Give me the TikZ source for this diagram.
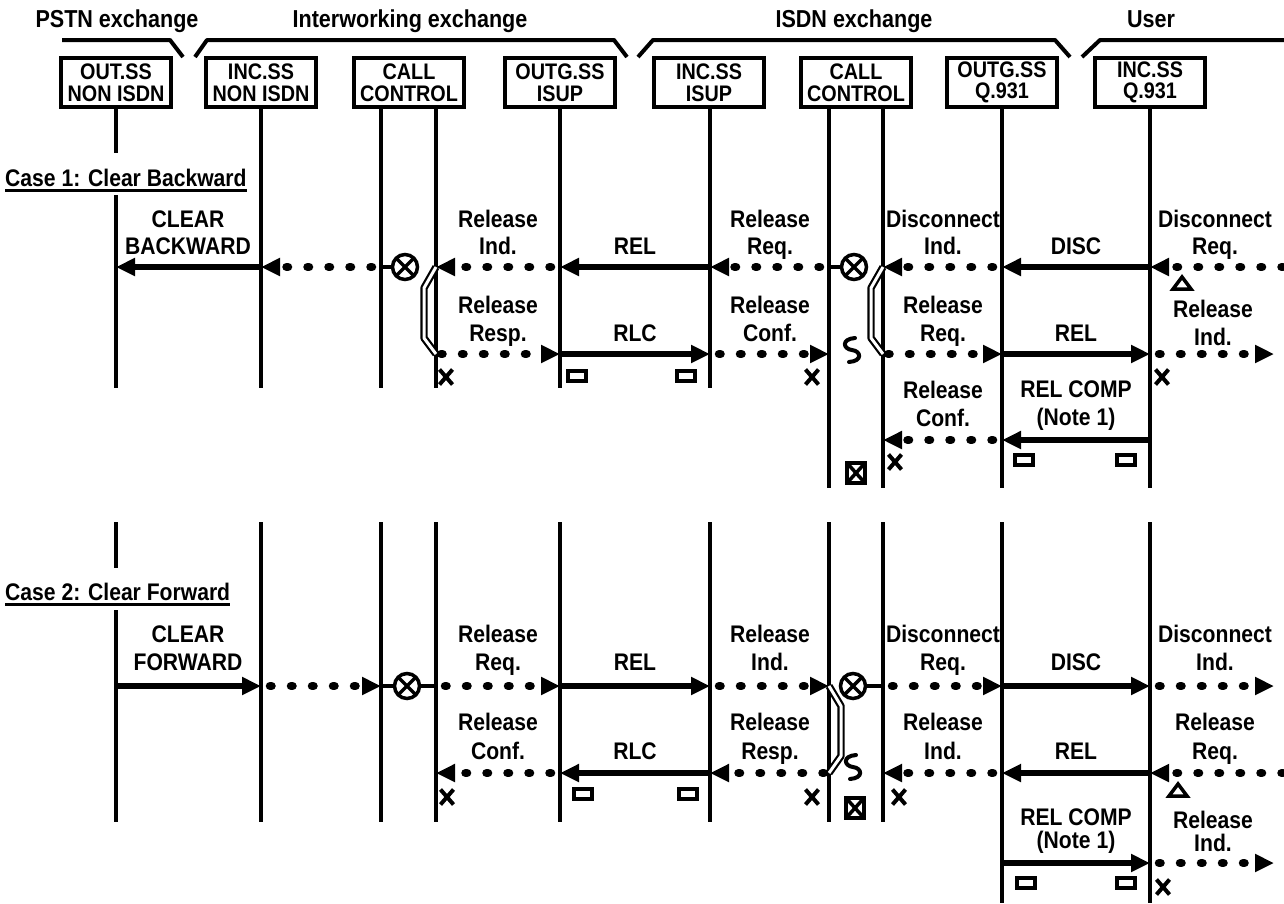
\documentclass[tikz,border=0pt]{standalone}
\usepackage{fontspec}
\setmainfont{Liberation Sans}[FakeStretch=0.88]
\usetikzlibrary{arrows.meta}
\begin{document}
\begin{tikzpicture}[x=1pt,y=-1pt,
  every node/.style={font=\bfseries\fontsize{24}{26}\selectfont, inner sep=0pt},
  ent/.style={draw, line width=4pt, minimum width=110pt, minimum height=49pt, align=center, font=\bfseries\fontsize{22.5}{21.5}\selectfont},
  hdr/.style={font=\bfseries\fontsize{24.5}{26}\selectfont, anchor=base},
  casel/.style={font=\bfseries\fontsize{24}{26}\selectfont, anchor=base west},
  lbl/.style={anchor=base},
  life/.style={line width=4pt},
  brace/.style={line width=4pt, line join=round},
  msg/.style={line width=5.5pt, -{Triangle[length=19pt,width=17pt]}},
  dmsg/.style={line width=8.5pt, line cap=round, dash pattern=on 1.5pt off 19.5pt, -{Triangle[length=19pt,width=17pt]}},
  link/.style={line width=3.5pt},
  brk/.style={line width=2.2pt, double=white, double distance=3pt, line join=round},
  ox/.style={circle, draw, line width=3.5pt, minimum size=25pt, inner sep=0pt,
    path picture={\draw[line width=3.5pt] (path picture bounding box.north west) -- (path picture bounding box.south east) (path picture bounding box.south west) -- (path picture bounding box.north east);}},
  xm/.pic={\draw[line width=4pt] (-6.5,-7.5) -- (6.5,7.5) (-6.5,7.5) -- (6.5,-7.5);},
  rm/.pic={\draw[line width=4pt] (-9,-5) rectangle (9,5);},
  bxm/.pic={\draw[line width=4pt] (-9,-10) rectangle (9,10); \draw[line width=3.5pt] (-9,-10) -- (9,10) (-9,10) -- (9,-10);},
  trim/.pic={\draw[line width=3.5pt, line join=miter] (-9,6) -- (0,-6) -- (9,6) -- cycle;},
  tlm/.pic={\draw[line width=4pt, line cap=round] (3,-12) .. controls (-11,-11) and (-9,-1) .. (0,0) .. controls (9,1) and (11,11) .. (-3,12);}
]
\useasboundingbox (0,0) rectangle (1284,903);

% lifeline x positions
\coordinate (L1) at (116,0);
\coordinate (L2) at (261,0);
\coordinate (L3) at (381,0);
\coordinate (L4) at (436,0);
\coordinate (L5) at (560,0);
\coordinate (L6) at (710,0);
\coordinate (L7) at (829,0);
\coordinate (L8) at (883,0);
\coordinate (L9) at (1002,0);
\coordinate (L10) at (1150,0);
% row y positions
\coordinate (A1) at (0,267);
\coordinate (A2) at (0,354);
\coordinate (A3) at (0,440);
\coordinate (B1) at (0,686);
\coordinate (B2) at (0,773);
\coordinate (B3) at (0,863);
\coordinate (E1) at (0,388);
\coordinate (E1b) at (0,488);
\coordinate (S2) at (0,522);
\coordinate (E2) at (0,822);
\coordinate (E2b) at (0,903);

% headers
\node[hdr] (h1) at (117,27) {PSTN exchange};
\node[hdr] (h2) at (410,27) {Interworking exchange};
\node[hdr] (h3) at (854,27) {ISDN exchange};
\node[hdr] (h4) at (1151,27) {User};
\draw[brace] (62,40) -- (170,40) -- (183,57);
\draw[brace] (195,57) -- (207,40) -- (614,40) -- (627,57);
\draw[brace] (638,57) -- (653,40) -- (1055,40) -- (1070,57);
\draw[brace] (1082,57) -- (1100,40) -- (1284,40);

% entity boxes
\node[ent] (b1) at (116,82.5) {OUT.SS\\NON ISDN};
\node[ent] (b2) at (261,82.5) {INC.SS\\NON ISDN};
\node[ent] (b3) at (409,82.5) {CALL\\CONTROL};
\node[ent] (b4) at (560,82.5) {OUTG.SS\\ISUP};
\node[ent] (b5) at (709,82.5) {INC.SS\\ISUP};
\node[ent] (b6) at (856,82.5) {CALL\\CONTROL};
\node[ent] (b7) at (1002,82.5) {OUTG.SS\\Q.931};
\node[ent] (b8) at (1150,82.5) {INC.SS\\Q.931};

% case 1 lifelines
\draw[life] (L1|-b1.south) -- (L1|-0,153);
\draw[life] (L1|-0,195) -- (L1|-E1);
\draw[life] (L2|-b2.south) -- (L2|-E1);
\draw[life] (L3|-b3.south) -- (L3|-E1);
\draw[life] (L4|-b3.south) -- (L4|-E1);
\draw[life] (L5|-b4.south) -- (L5|-E1);
\draw[life] (L6|-b5.south) -- (L6|-E1);
\draw[life] (L7|-b6.south) -- (L7|-E1b);
\draw[life] (L8|-b6.south) -- (L8|-E1b);
\draw[life] (L9|-b7.south) -- (L9|-E1b);
\draw[life] (L10|-b8.south) -- (L10|-E1b);

% case 2 lifelines
\draw[life] (L1|-S2) -- (L1|-0,568);
\draw[life] (L1|-0,610) -- (L1|-E2);
\foreach \l in {L2,L3,L4,L5,L6,L7,L8} {\draw[life] (\l|-S2) -- (\l|-E2);}
\draw[life] (L9|-S2) -- (L9|-E2b);
\draw[life] (L10|-S2) -- (L10|-E2b);

% case labels
\node[casel] (c1) at (5,186) {Case 1: Clear Backward};
\draw[line width=2.2pt] ([yshift=-4pt]c1.south west) -- ([yshift=-4pt]c1.south east);
\node[casel] (c2) at (5,600) {Case 2: Clear Forward};
\draw[line width=2.2pt] ([yshift=-4pt]c2.south west) -- ([yshift=-4pt]c2.south east);

% ===== Case 1 =====
% row 1
\draw[msg] (L2|-A1) -- (L1|-A1);
\draw[dmsg, shorten <=9pt] (L3|-A1) -- (L2|-A1);
\node[ox] (o1) at (405,267) {};
\draw[link] (L3|-A1) -- (o1);
\draw[dmsg, shorten <=9pt] (L5|-A1) -- (L4|-A1);
\draw[msg] (L6|-A1) -- (L5|-A1);
\draw[dmsg, shorten <=9pt] (L7|-A1) -- (L6|-A1);
\node[ox] (o2) at (854,267) {};
\draw[link] (L7|-A1) -- (o2);
\draw[dmsg, shorten <=9pt] (L9|-A1) -- (L8|-A1);
\draw[msg] (L10|-A1) -- (L9|-A1);
\coordinate (R1) at (1283,267);
\draw[dmsg] (R1) -- (L10|-A1);
% row 2
\draw[brk] (L4|-A1) -- (424,288) -- (424,338) -- (L4|-A2);
\draw[dmsg, shorten <=5pt] (L4|-A2) -- (L5|-A2);
\draw[msg] (L5|-A2) -- (L6|-A2);
\draw[dmsg, shorten <=9pt] (L6|-A2) -- (L7|-A2);
\draw[brk] (L8|-A1) -- (871,288) -- (871,338) -- (L8|-A2);
\draw[dmsg, shorten <=5pt] (L8|-A2) -- (L9|-A2);
\draw[msg] (L9|-A2) -- (L10|-A2);
\coordinate (R2) at (1274,354);
\draw[dmsg, shorten <=9pt] (L10|-A2) -- (R2);
% row 3
\draw[msg] (L10|-A3) -- (L9|-A3);
\draw[dmsg, shorten <=9pt] (L9|-A3) -- (L8|-A3);

% labels case 1
\node[lbl] (t1a) at (188,227) {CLEAR};
\node[lbl] (t1b) at (188,254) {BACKWARD};
\node[lbl] (t2a) at (498,227) {Release};
\node[lbl] (t2b) at (498,254) {Ind.};
\node[lbl] (t3) at (635,254) {REL};
\node[lbl] (t4a) at (770,227) {Release};
\node[lbl] (t4b) at (770,254) {Req.};
\node[lbl] (t5a) at (943,227) {Disconnect};
\node[lbl] (t5b) at (943,254) {Ind.};
\node[lbl] (t6) at (1076,254) {DISC};
\node[lbl] (t7a) at (1215,227) {Disconnect};
\node[lbl] (t7b) at (1215,254) {Req.};
\node[lbl] (u1a) at (498,313) {Release};
\node[lbl] (u1b) at (498,341) {Resp.};
\node[lbl] (u2) at (635,341) {RLC};
\node[lbl] (u3a) at (770,313) {Release};
\node[lbl] (u3b) at (770,341) {Conf.};
\node[lbl] (u4a) at (943,313) {Release};
\node[lbl] (u4b) at (943,341) {Req.};
\node[lbl] (u5) at (1076,341) {REL};
\node[lbl] (u6a) at (1213,317) {Release};
\node[lbl] (u6b) at (1213,345) {Ind.};
\node[lbl] (v1a) at (943,398) {Release};
\node[lbl] (v1b) at (943,426) {Conf.};
\node[lbl] (v2a) at (1076,397) {REL COMP};
\node[lbl] (v2b) at (1076,425) {(Note 1)};

% marks case 1
\pic at (1182,283) {trim};
\pic at (446,377) {xm};
\pic at (577,376) {rm};
\pic at (686,376) {rm};
\pic at (812,377) {xm};
\pic at (852,350) {tlm};
\pic at (1162,377) {xm};
\pic at (895,462) {xm};
\pic at (1024,460) {rm};
\pic at (1126,460) {rm};
\pic at (856,473) {bxm};

% ===== Case 2 =====
% row 1
\draw[msg] (L1|-B1) -- (L2|-B1);
\draw[dmsg, shorten <=9pt] (L2|-B1) -- (L3|-B1);
\node[ox] (o3) at (407,686) {};
\draw[link] (L3|-B1) -- (o3) -- (L4|-B1);
\draw[dmsg, shorten <=9pt] (L4|-B1) -- (L5|-B1);
\draw[msg] (L5|-B1) -- (L6|-B1);
\draw[dmsg, shorten <=9pt] (L6|-B1) -- (L7|-B1);
\node[ox] (o4) at (853,686) {};
\draw[link] (o4) -- (L8|-B1);
\draw[dmsg, shorten <=9pt] (L8|-B1) -- (L9|-B1);
\draw[msg] (L9|-B1) -- (L10|-B1);
\coordinate (R3) at (1274,686);
\draw[dmsg, shorten <=9pt] (L10|-B1) -- (R3);
% row 2
\draw[brk] (L7|-B1) -- (841,706) -- (841,756) -- (L7|-B2);
\coordinate (R4) at (1283,773);
\draw[dmsg] (R4) -- (L10|-B2);
\draw[msg] (L10|-B2) -- (L9|-B2);
\draw[dmsg, shorten <=9pt] (L9|-B2) -- (L8|-B2);
\draw[dmsg, shorten <=5pt] (L7|-B2) -- (L6|-B2);
\draw[msg] (L6|-B2) -- (L5|-B2);
\draw[dmsg, shorten <=9pt] (L5|-B2) -- (L4|-B2);
% row 3
\draw[msg] (L9|-B3) -- (L10|-B3);
\coordinate (R5) at (1274,863);
\draw[dmsg, shorten <=9pt] (L10|-B3) -- (R5);

% labels case 2
\node[lbl] (p1a) at (188,642) {CLEAR};
\node[lbl] (p1b) at (188,670) {FORWARD};
\node[lbl] (p2a) at (498,642) {Release};
\node[lbl] (p2b) at (498,670) {Req.};
\node[lbl] (p3) at (635,670) {REL};
\node[lbl] (p4a) at (770,642) {Release};
\node[lbl] (p4b) at (770,670) {Ind.};
\node[lbl] (p5a) at (943,642) {Disconnect};
\node[lbl] (p5b) at (943,670) {Req.};
\node[lbl] (p6) at (1076,670) {DISC};
\node[lbl] (p7a) at (1215,642) {Disconnect};
\node[lbl] (p7b) at (1215,670) {Ind.};
\node[lbl] (q1a) at (498,730) {Release};
\node[lbl] (q1b) at (498,759) {Conf.};
\node[lbl] (q2) at (635,759) {RLC};
\node[lbl] (q3a) at (770,730) {Release};
\node[lbl] (q3b) at (770,759) {Resp.};
\node[lbl] (q4a) at (943,730) {Release};
\node[lbl] (q4b) at (943,759) {Ind.};
\node[lbl] (q5) at (1076,759) {REL};
\node[lbl] (q6a) at (1215,730) {Release};
\node[lbl] (q6b) at (1215,759) {Req.};
\node[lbl] (s1a) at (1076,825) {REL COMP};
\node[lbl] (s1b) at (1076,848) {(Note 1)};
\node[lbl] (s2a) at (1213,828) {Release};
\node[lbl] (s2b) at (1213,851) {Ind.};

% marks case 2
\pic at (447,797) {xm};
\pic at (583,794) {rm};
\pic at (688,794) {rm};
\pic at (812,797) {xm};
\pic at (853,767) {tlm};
\pic at (855,808) {bxm};
\pic at (899,797) {xm};
\pic at (1178,790) {trim};
\pic at (1026,883) {rm};
\pic at (1126,883) {rm};
\pic at (1163,887) {xm};
\end{tikzpicture}
\end{document}
